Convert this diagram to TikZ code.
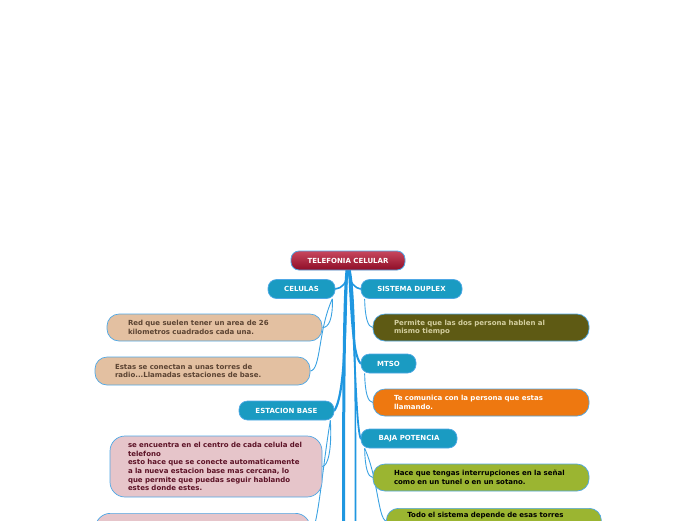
\documentclass[tikz,border=0pt]{standalone}
\usepackage{fontspec}
\setmainfont{DejaVu Sans}
\usetikzlibrary{backgrounds}
\definecolor{topic}{HTML}{1A9BC2}
\definecolor{edge}{HTML}{4FA8E6}
\definecolor{trunkc}{HTML}{1F97E0}
\definecolor{subc}{HTML}{3AA2E2}
\definecolor{tanf}{HTML}{E3C0A1}
\definecolor{tant}{HTML}{5B4332}
\definecolor{pinkf}{HTML}{E6C5CA}
\definecolor{pinkt}{HTML}{5C1226}
\definecolor{olivef}{HTML}{5E5A14}
\definecolor{olivet}{HTML}{D4CFA0}
\definecolor{orangef}{HTML}{EE7810}
\definecolor{greenf}{HTML}{9BB531}
\definecolor{roottop}{HTML}{C8475E}
\definecolor{rootbot}{HTML}{8E0D27}
\begin{document}
\begin{tikzpicture}[x=1pt,y=-1pt,
  every node/.style={font=\fontsize{7}{8.6}\selectfont\bfseries},
  rootbox/.style={draw=edge, line width=0.8pt, top color=roottop, bottom color=rootbot, text=white, rounded corners=8pt, minimum height=19pt, minimum width=114pt, inner sep=0pt},
  topicbox/.style={draw=edge, line width=0.7pt, fill=topic, text=white, rounded corners=8.5pt, minimum height=19pt, inner sep=0pt},
  subbox/.style={draw=edge, line width=0.7pt, rounded corners=12pt, minimum height=27pt, minimum width=215pt, align=left, inner ysep=3pt},
  trunk/.style={draw=trunkc, line cap=round},
  subline/.style={draw=subc, line width=0.9pt}]
\useasboundingbox (0,0) rectangle (696,520);
\clip (0,0) rectangle (696,520);

% central topic and main topics
\node[rootbox] (root) at (348,260.5) {TELEFONIA CELULAR};
\node[topicbox, minimum width=67pt] (cel) at (301.5,289) {CELULAS};
\node[topicbox, minimum width=101pt] (dup) at (411.5,289) {SISTEMA DUPLEX};
\node[topicbox, minimum width=55pt] (mtso) at (388.5,363.5) {MTSO};
\node[topicbox, minimum width=95pt] (est) at (286.5,410.5) {ESTACION BASE};
\node[topicbox, minimum width=96pt] (baja) at (409,438.5) {BAJA POTENCIA};

% left subtopics
\node[subbox, fill=tanf, text=tant, inner xsep=21pt, text width=173pt] (red) at (214.5,327.5)
  {Red que suelen tener un area de 26\\kilometros cuadrados cada una.};
\node[subbox, fill=tanf, text=tant, inner xsep=20pt, text width=175pt, minimum height=28pt] (estas) at (202.5,371)
  {Estas se conectan a unas torres de\\radio...Llamadas estaciones de base.};
\node[subbox, fill=pinkf, text=pinkt, inner xsep=18pt, text width=176pt, minimum width=212pt, minimum height=61pt, rounded corners=15pt] (centro) at (216,466.5)
  {\mbox{se encuentra en el centro de cada celula del}\\telefono\\esto hace que se conecte automaticamente\\a la nueva estacion base mas cercana, lo\\que permite que puedas seguir hablando\\estes donde estes.};
\node[subbox, fill=pinkf, minimum height=40pt, rounded corners=15pt, anchor=north west] (pinkb) at (95,513) {};

% right subtopics
\node[subbox, fill=olivef, text=olivet, inner xsep=21pt, text width=174pt, minimum width=216pt] (perm) at (481,327.5)
  {Permite que las dos persona hablen al\\mismo tiempo};
\node[subbox, fill=orangef, text=white, inner xsep=21pt, text width=174pt, minimum width=216pt] (comu) at (481,402.5)
  {Te comunica con la persona que estas\\llamando.};
\node[subbox, fill=greenf, text=black, inner xsep=21pt, inner ysep=3.5pt, text width=174pt, minimum width=216pt] (hace) at (481,477.5)
  {Hace que tengas interrupciones en la señal\\como en un tunel o en un sotano.};
\node[subbox, fill=greenf, text=black, inner xsep=21pt, inner ysep=3.5pt, text width=173pt, text depth=20pt, minimum height=0pt, anchor=north west] (todo) at (386,508)
  {Todo el sistema depende de esas torres};

\coordinate (offL) at (343.5,535);
\coordinate (offR) at (355.5,535);

\begin{scope}[on background layer]
% trunk
\draw[trunk, line width=3pt] ([xshift=-1pt]root.south) .. controls (344,300) and (343.5,400) .. (offL);
\draw[trunk, line width=2.2pt] ([xshift=-1pt]root.south) .. controls (345,300) and (347,392) .. (est.east);
\draw[trunk, line width=2pt] ([xshift=1pt]root.south) .. controls (351,300) and (352,355) .. (mtso.west);
\draw[trunk, line width=1.8pt] ([xshift=1pt]root.south) .. controls (354,300) and (355,425) .. (baja.west);
\draw[trunk, line width=1.6pt] ([xshift=2pt]root.south) .. controls (356,300) and (355.5,420) .. (offR);
\draw[trunk, line width=1.6pt] (root.south) .. controls (347,284) and (342,288) .. (cel.east);
\draw[trunk, line width=1.6pt] (root.south) .. controls (350,284) and (355,288) .. (dup.west);
% sub connectors left
\draw[subline] ([xshift=-3pt]cel.south east) .. controls (333,318) and (329,328) .. (red.east);
\draw[subline] ([xshift=-3pt]cel.south east) .. controls (318,330) and (321,370) .. (estas.east);
\draw[subline] ([xshift=-4pt]est.south east) .. controls (332,450) and (328,466) .. (centro.east);
\draw[subline] ([xshift=-4pt]est.south east) .. controls (322,470) and (318,530) .. (310,535);
% sub connectors right
\draw[subline] ([xshift=4pt]dup.south west) .. controls (365,318) and (368,327) .. (perm.west);
\draw[subline] ([xshift=4pt]mtso.south west) .. controls (365,393) and (368,402) .. (comu.west);
\draw[subline] ([xshift=4pt]baja.south west) .. controls (365,468) and (368,477) .. (hace.west);
\draw[subline] ([xshift=4pt]baja.south west) .. controls (378,478) and (378,518) .. (386,521);
\end{scope}
\end{tikzpicture}
\end{document}
